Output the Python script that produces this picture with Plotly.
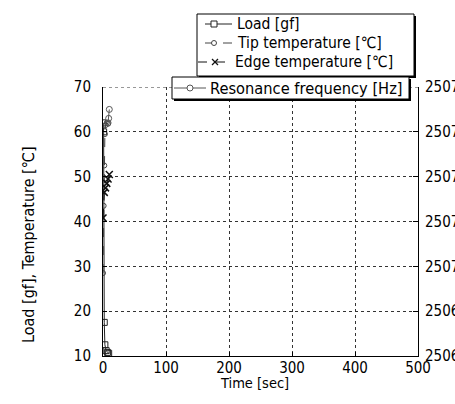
import plotly.graph_objects as go

# Measured series (time in seconds)
load_time = [0, 1, 2, 3, 5, 7, 9]
load_gf = [62.0, 60.0, 17.5, 12.5, 11.2, 10.8, 10.6]

tip_time = [0, 1, 2, 3, 4, 6, 8]
tip_temp = [28.5, 43.5, 52.5, 59.5, 61.5, 62.0, 61.8]

edge_time = [0, 2, 4, 6, 8, 10]
edge_temp = [40.8, 46.5, 47.5, 48.5, 49.5, 50.5]

res_time = [8, 9, 10]
res_freq = [2507.32, 2507.33, 2507.35]

x_ticks = [0, 100, 200, 300, 400, 500]
y_ticks = [10, 20, 30, 40, 50, 60, 70]
y2_ticks = [2506.8, 2506.9, 2507.0, 2507.1, 2507.2, 2507.3, 2507.4]

FONT = "DejaVu Sans Condensed, Liberation Sans Narrow, sans-serif"
W, H = 455, 404
ML, MR, MT, MB = 103, 37, 87, 48

C_LOAD, C_TIP, C_EDGE, C_RES = "#222222", "#444444", "#111111", "#555555"

fig = go.Figure()
fig.add_trace(go.Scatter(
    x=load_time, y=load_gf, name="Load [gf]", mode="lines+markers",
    line=dict(color=C_LOAD, width=1),
    marker=dict(symbol="square-open", size=6, color=C_LOAD)))
fig.add_trace(go.Scatter(
    x=tip_time, y=tip_temp, name="Tip temperature [\u2103]", mode="lines+markers",
    line=dict(color=C_TIP, width=1, dash="dash"),
    marker=dict(symbol="circle-open", size=5, color=C_TIP)))
fig.add_trace(go.Scatter(
    x=edge_time, y=edge_temp, name="Edge temperature [\u2103]", mode="lines+markers",
    line=dict(color=C_EDGE, width=1, dash="dash"),
    marker=dict(symbol="x-thin-open", size=7, color=C_EDGE, line=dict(width=1.5, color=C_EDGE))))
fig.add_trace(go.Scatter(
    x=res_time, y=res_freq, name="Resonance frequency [Hz]", mode="lines+markers",
    line=dict(color=C_RES, width=1),
    marker=dict(symbol="circle-open", size=6, color=C_RES),
    yaxis="y2"))

px_w = W - ML - MR
px_h = H - MT - MB


def px(x):
    return (x - ML) / px_w


def py(y):
    return (H - MB - y) / px_h


TICK_FONT = dict(family=FONT, size=15, color="black")

axis_common = dict(
    showline=True, linecolor="black", linewidth=1,
    ticks="inside", ticklen=4, tickcolor="black",
    showgrid=True, gridcolor="#333", gridwidth=1, griddash="dot",
    zeroline=False, automargin=False,
    tickfont=TICK_FONT,
)

fig.update_layout(
    width=W, height=H,
    margin=dict(l=ML, r=MR, t=MT, b=MB, autoexpand=False),
    paper_bgcolor="white", plot_bgcolor="white",
    font=dict(family=FONT, color="black"),
    showlegend=False,
    xaxis=dict(range=[0, 500], tickvals=x_ticks, ticklabelstandoff=-2, **axis_common),
    yaxis=dict(range=[10, 70], tickvals=y_ticks, ticklabelstandoff=8, **axis_common),
    yaxis2=dict(range=[2506.8, 2507.4], tickvals=y2_ticks, overlaying="y", side="right",
                tickformat=".1f", showline=True, linecolor="black", linewidth=1,
                ticks="inside", ticklen=5, tickcolor="black", showgrid=False,
                zeroline=False, automargin=False, ticklabelstandoff=3,
                tickfont=TICK_FONT),
)

shapes = []
annos = []

# Dotted top frame at y = 70
shapes.append(dict(type="line", xref="paper", yref="y", x0=0, x1=1, y0=70, y1=70,
                   line=dict(color="#333", width=1, dash="dot")))


def box(x0, y0, x1, y1, sh):
    # shadow first, then the white framed box on top
    shapes.append(dict(type="rect", xref="paper", yref="paper",
                       x0=px(x0 + sh), x1=px(x1 + sh), y0=py(y1 + sh), y1=py(y0 + sh),
                       fillcolor="black", line=dict(width=0), layer="above"))
    shapes.append(dict(type="rect", xref="paper", yref="paper",
                       x0=px(x0), x1=px(x1), y0=py(y1), y1=py(y0),
                       fillcolor="white", line=dict(color="black", width=1), layer="above"))


def hline(x0, x1, y, color, dash="solid"):
    shapes.append(dict(type="line", xref="paper", yref="paper",
                       x0=px(x0), x1=px(x1), y0=py(y), y1=py(y),
                       line=dict(color=color, width=1, dash=dash), layer="above"))


def sq(cx, cy, r, color):
    shapes.append(dict(type="rect", xref="paper", yref="paper",
                       x0=px(cx - r), x1=px(cx + r), y0=py(cy + r), y1=py(cy - r),
                       fillcolor="white", line=dict(color=color, width=1), layer="above"))


def circ(cx, cy, r, color):
    shapes.append(dict(type="circle", xref="paper", yref="paper",
                       x0=px(cx - r), x1=px(cx + r), y0=py(cy + r), y1=py(cy - r),
                       fillcolor="white", line=dict(color=color, width=1), layer="above"))


def cross(cx, cy, r, color):
    for s in (1, -1):
        shapes.append(dict(type="line", xref="paper", yref="paper",
                           x0=px(cx - r), x1=px(cx + r), y0=py(cy - s * r), y1=py(cy + s * r),
                           line=dict(color=color, width=1.3), layer="above"))


def label(x, y, text, size=15.5):
    annos.append(dict(text=text, xref="paper", yref="paper", x=px(x), y=py(y),
                      xanchor="left", yanchor="middle", showarrow=False,
                      font=dict(family=FONT, size=size, color="black")))


# Legend for the left-axis series
box(197, 14, 414, 76, 2)
hline(205, 232, 24, C_LOAD)
sq(214, 24, 3, C_LOAD)
label(235, 24, "Load [gf]")
hline(205, 232, 43, C_TIP, "dash")
circ(214, 43, 2.5, C_TIP)
label(235, 43, "Tip temperature [\u2103]")
hline(198, 232, 62, C_EDGE, "dash")
cross(215, 62, 3, C_EDGE)
label(233, 62, "Edge temperature [\u2103]")

# Legend for the right-axis series
box(172, 77, 409, 99, 2)
hline(174, 206, 88, C_RES)
circ(190, 88, 3, C_RES)
label(208, 88, "Resonance frequency [Hz]", 16.3)

# Axis titles
annos.append(dict(text="Time [sec]", xref="paper", yref="paper", x=px(254), y=py(383),
                  xanchor="center", yanchor="middle", showarrow=False,
                  font=dict(family=FONT, size=14.5, color="black")))
annos.append(dict(text="Load [gf], Temperature [\u2103]", textangle=-90,
                  xref="paper", yref="paper", x=px(28), y=py(245),
                  xanchor="center", yanchor="middle", showarrow=False,
                  font=dict(family=FONT, size=16, color="black")))

fig.update_layout(shapes=shapes, annotations=annos)

fig.write_html("out.html")
